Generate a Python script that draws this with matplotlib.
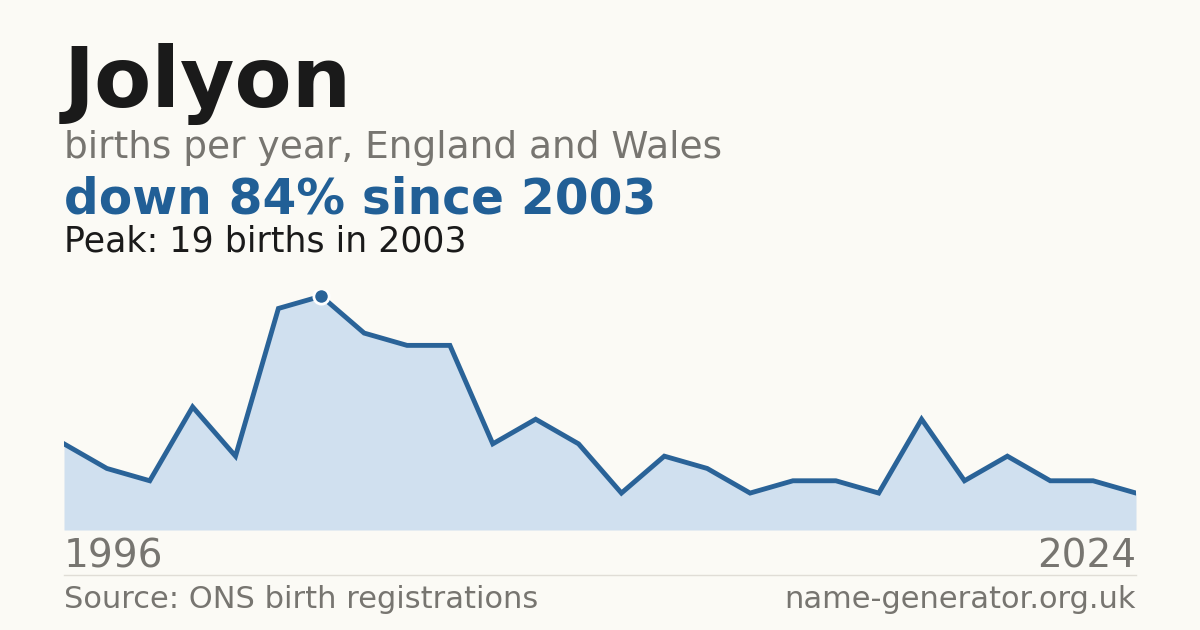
import matplotlib
matplotlib.use("Agg")
import matplotlib.pyplot as plt
import numpy as np

years = [1996,1997,1998,2000,2001,2002,2003,2004,2005,2006,2007,2008,2009,2010,2011,2012,
         2014,2015,2017,2018,2019,2020,2021,2022,2023,2024]
births = [7,5,4,10,6,18,19,16,15,15,7,9,7,3,6,5,3,4,4,3,9,4,6,4,4,3]
peak_i = int(np.argmax(births))

bg = "#fbfaf5"
blue = "#2a6398"
fig = plt.figure(figsize=(12,6.3), dpi=100, facecolor=bg)
ax = fig.add_axes([64/1200, 100/630, 1072/1200, 240/630])
ax.set_facecolor(bg)
x = np.arange(len(years))
ax.fill_between(x, births, 0, color="#d0e0ef", lw=0)
ax.plot(x, births, color=blue, lw=3.5, solid_joinstyle="miter")
ax.plot(x[peak_i], births[peak_i], "o", ms=11, color=blue, mec="white", mew=2, zorder=5)
ax.set_xlim(0, len(years)-1)
ax.set_ylim(0, 19.5)
ax.axis("off")

fig.text(64/1200, 1-84/630, "Jolyon", fontsize=60, weight="bold", color="#1a1a1a", va="center")
fig.text(64/1200, 1-148/630, "births per year, England and Wales", fontsize=27, color="#777570", va="center")
fig.text(64/1200, 1-199/630, "down 84% since 2003", fontsize=35, weight="bold", color="#215f96", va="center")
fig.text(64/1200, 1-242/630, f"Peak: {births[peak_i]} births in {years[peak_i]}", fontsize=25, color="#1a1a1a", va="center")
fig.text(64/1200, 1-557/630, str(years[0]), fontsize=28, color="#777570", va="center")
fig.text(1136/1200, 1-557/630, str(years[-1]), fontsize=28, color="#777570", va="center", ha="right")
fig.add_artist(plt.Line2D([64/1200, 1136/1200], [1-575/630]*2, color="#e0ddd6", lw=1))
fig.text(64/1200, 1-600/630, "Source: ONS birth registrations", fontsize=22, color="#777570", va="center")
fig.text(1136/1200, 1-600/630, "name-generator.org.uk", fontsize=22, color="#777570", va="center", ha="right")
fig.savefig("out.png", dpi=100, facecolor=bg)
